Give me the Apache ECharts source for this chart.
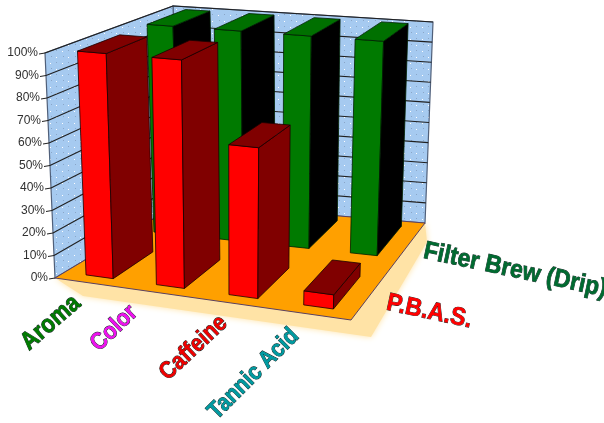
<!DOCTYPE html>
<html><head><meta charset="utf-8">
<style>html,body{margin:0;padding:0;background:#fff}#c{width:604px;height:423px}</style>
<script src="https://cdn.jsdelivr.net/npm/echarts@6/dist/echarts.min.js"></script>
</head><body><div id="c"></div>
<script>
const categories = ['Aroma', 'Color', 'Caffeine', 'Tannic Acid'];
const seriesNames = ['P.B.A.S.', 'Filter Brew (Drip)'];
const pbas = [100, 100, 65, 6];
const filterBrew = [100, 100, 100, 100];
const ticks = [0, 10, 20, 30, 40, 50, 60, 70, 80, 90, 100];

// view: screen position of the eight corners of the plot box
const VIEW = {
  b: [[55, 278], [351, 320], [180, 203], [425, 223]], // floor: front-left, front-right, back-left, back-right
  t: [[45, 53], [358, 80], [173, 6], [433, 22]]       // top
};
const WARP = 0.06; // foreshortening along the category direction
const lerp = (a, b, k) => a + (b - a) * k;
function P(u0, d, h) {
  const u = u0 - WARP * u0 * (1 - u0);
  const f = i => {
    const bot = lerp(lerp(VIEW.b[0][i], VIEW.b[1][i], u), lerp(VIEW.b[2][i], VIEW.b[3][i], u), d);
    const top = lerp(lerp(VIEW.t[0][i], VIEW.t[1][i], u), lerp(VIEW.t[2][i], VIEW.t[3][i], u), d);
    return lerp(bot, top, h);
  };
  return [f(0), f(1)];
}
// flat grid coordinate -> fractions of the plot box
function frac(params, pt) {
  const r = params.coordSys;
  return [(pt[0] - r.x) / r.width, (r.y + r.height - pt[1]) / r.height];
}
const ROWS = [[0.08, 0.42], [0.64, 0.95]];
const BAR_SHARE = 0.39;
const FACE = [
  {front: '#ff0000', side: '#800000', top: '#800000', edge: '#1a0000'},
  {front: '#007a00', side: '#000000', top: '#007000', edge: '#002000'}
];
const CAT_COLORS = ['#007a00', '#ee11ee', '#ee0000', '#009aa0'];
const NAME_COLORS = ['#ff0000', '#006a30'];
const CAT_FONT = [22, 21, 21, 21];
const CAT_TILT = [41, 44, 43, 45];
const CAT_NUDGE = [[-13, 17], [-28, 16], [-12, 16], [-17, 18]];
const NAME_X = [387, 424];
const NAME_NUDGE_Y = [7, 8];

function poly(pts, fill, stroke, lw) {
  return {type: 'polygon', shape: {points: pts}, style: {fill, stroke: stroke || null, lineWidth: lw || 1}};
}
function line(a, b, stroke, lw) {
  return {type: 'line', shape: {x1: a[0], y1: a[1], x2: b[0], y2: b[1]}, style: {stroke, lineWidth: lw || 1}};
}
function barRender(row) {
  return function (params, api) {
    const c = api.coord([api.value(0), api.value(1)]);
    const f = frac(params, c);
    const w = api.size([1, 0])[0] * BAR_SHARE / params.coordSys.width;
    const u0 = f[0] - w / 2, u1 = f[0] + w / 2, h = f[1];
    const d0 = ROWS[row][0], d1 = ROWS[row][1], s = FACE[row];
    return {type: 'group', children: [
      poly([P(u0, d0, 0), P(u1, d0, 0), P(u1, d0, h), P(u0, d0, h)], s.front, s.edge, 0.8),
      poly([P(u1, d0, 0), P(u1, d1, 0), P(u1, d1, h), P(u1, d0, h)], s.side, s.edge, 0.8),
      poly([P(u0, d0, h), P(u1, d0, h), P(u1, d1, h), P(u0, d1, h)], s.top, s.edge, 0.8)
    ]};
  };
}
function wallPattern() {
  const cv = document.createElement('canvas');
  cv.width = 12; cv.height = 12;
  const g = cv.getContext('2d');
  g.fillStyle = '#a6caf0'; g.fillRect(0, 0, 12, 12);
  g.fillStyle = '#ffffff'; g.fillRect(2, 3, 1, 1); g.fillRect(8, 9, 1, 1);
  g.fillStyle = '#8aa6c8'; g.fillRect(8, 2, 1, 1); g.fillRect(3, 8, 1, 1);
  return {image: cv, repeat: 'repeat'};
}
const WALL = wallPattern();

const chart = echarts.init(document.getElementById('c'), null, {renderer: 'canvas'});
chart.setOption({
  animation: false,
  backgroundColor: '#ffffff',
  grid: {left: 55, top: 53, width: 297, height: 225},
  xAxis: {type: 'category', data: categories, show: false},
  yAxis: {type: 'value', min: 0, max: 100, interval: 10, show: false},
  tooltip: {show: false},
  series: [
    {
      name: 'box', type: 'custom', silent: true, clip: false, data: [[0, 0]],
      renderItem() {
        const shadow = [P(0, 0, 0), P(1, 0, 0), P(1, 1, 0)];
        const s = [[shadow[0][0] + 28, shadow[0][1] + 18], [shadow[1][0] + 20, shadow[1][1] + 17], [shadow[2][0] + 2, shadow[2][1] + 19], shadow[2], shadow[0]];
        return {type: 'group', children: [
          {type: 'polygon', shape: {points: s}, style: {fill: '#ffe3a6', shadowColor: '#ffe3a6', shadowBlur: 6}},
          poly([P(0, 1, 0), P(1, 1, 0), P(1, 1, 1), P(0, 1, 1)], WALL, '#50607a', 1.2),
          poly([P(0, 0, 0), P(0, 1, 0), P(0, 1, 1), P(0, 0, 1)], WALL, '#50607a', 1.2),
          poly([P(0, 0, 0), P(1, 0, 0), P(1, 1, 0), P(0, 1, 0)], '#ffa000', '#5a4060', 1)
        ]};
      }
    },
    {
      name: 'ticks', type: 'custom', silent: true, clip: false, data: ticks.map(t => [0, t]),
      renderItem(params, api) {
        const v = api.value(1);
        const h = frac(params, api.coord([0, v]))[1];
        const a = P(0, 0, h), bk = P(0, 1, h), r = P(1, 1, h);
        const kids = [line([a[0] - 6, a[1] + 1], a, '#202020')];
        if (v > 0) {
          kids.push(line(a, bk, '#202020', 1.1), line(bk, r, '#202020', 1.1));
        }
        kids.push({type: 'text', x: a[0] - 7, y: a[1], style: {text: v + '%', fill: '#303030', font: '12px "Liberation Sans"', align: 'right', verticalAlign: 'middle'}});
        return {type: 'group', children: kids};
      }
    },
    {
      name: seriesNames[1], type: 'custom', silent: true, clip: false,
      data: filterBrew.map((v, i) => [i, v]), renderItem: barRender(1)
    },
    {
      name: seriesNames[0], type: 'custom', silent: true, clip: false,
      data: pbas.map((v, i) => [i, v]), renderItem: barRender(0)
    },
    {
      name: 'category labels', type: 'custom', silent: true, clip: false,
      data: categories.map((c, i) => [i, 0]),
      renderItem(params, api) {
        const i = api.value(0);
        const u = frac(params, api.coord([i, 0]))[0];
        const p = P(u, 0, 0);
        return {type: 'text', x: p[0] + CAT_NUDGE[i][0], y: p[1] + CAT_NUDGE[i][1], rotation: CAT_TILT[i] * Math.PI / 180, scaleY: 1.15,
          style: {text: categories[i], fill: CAT_COLORS[i], stroke: '#102020', lineWidth: 0.8,
            font: 'bold ' + CAT_FONT[i] + 'px "Liberation Sans"', align: 'right', verticalAlign: 'middle'}};
      }
    },
    {
      name: 'series labels', type: 'custom', silent: true, clip: false,
      data: seriesNames.map((n, i) => [0, i]),
      renderItem(params, api) {
        const i = api.value(1);
        const p = P(1, (ROWS[i][0] + ROWS[i][1]) / 2, 0);
        return {type: 'text', x: NAME_X[i], y: p[1] + NAME_NUDGE_Y[i], rotation: -12 * Math.PI / 180, scaleY: 1.1,
          style: {text: seriesNames[i], fill: NAME_COLORS[i], stroke: '#102020', lineWidth: 0.7,
            font: 'bold 23px "Liberation Sans"', align: 'left', verticalAlign: 'middle'}};
      }
    }
  ]
});
</script></body></html>
